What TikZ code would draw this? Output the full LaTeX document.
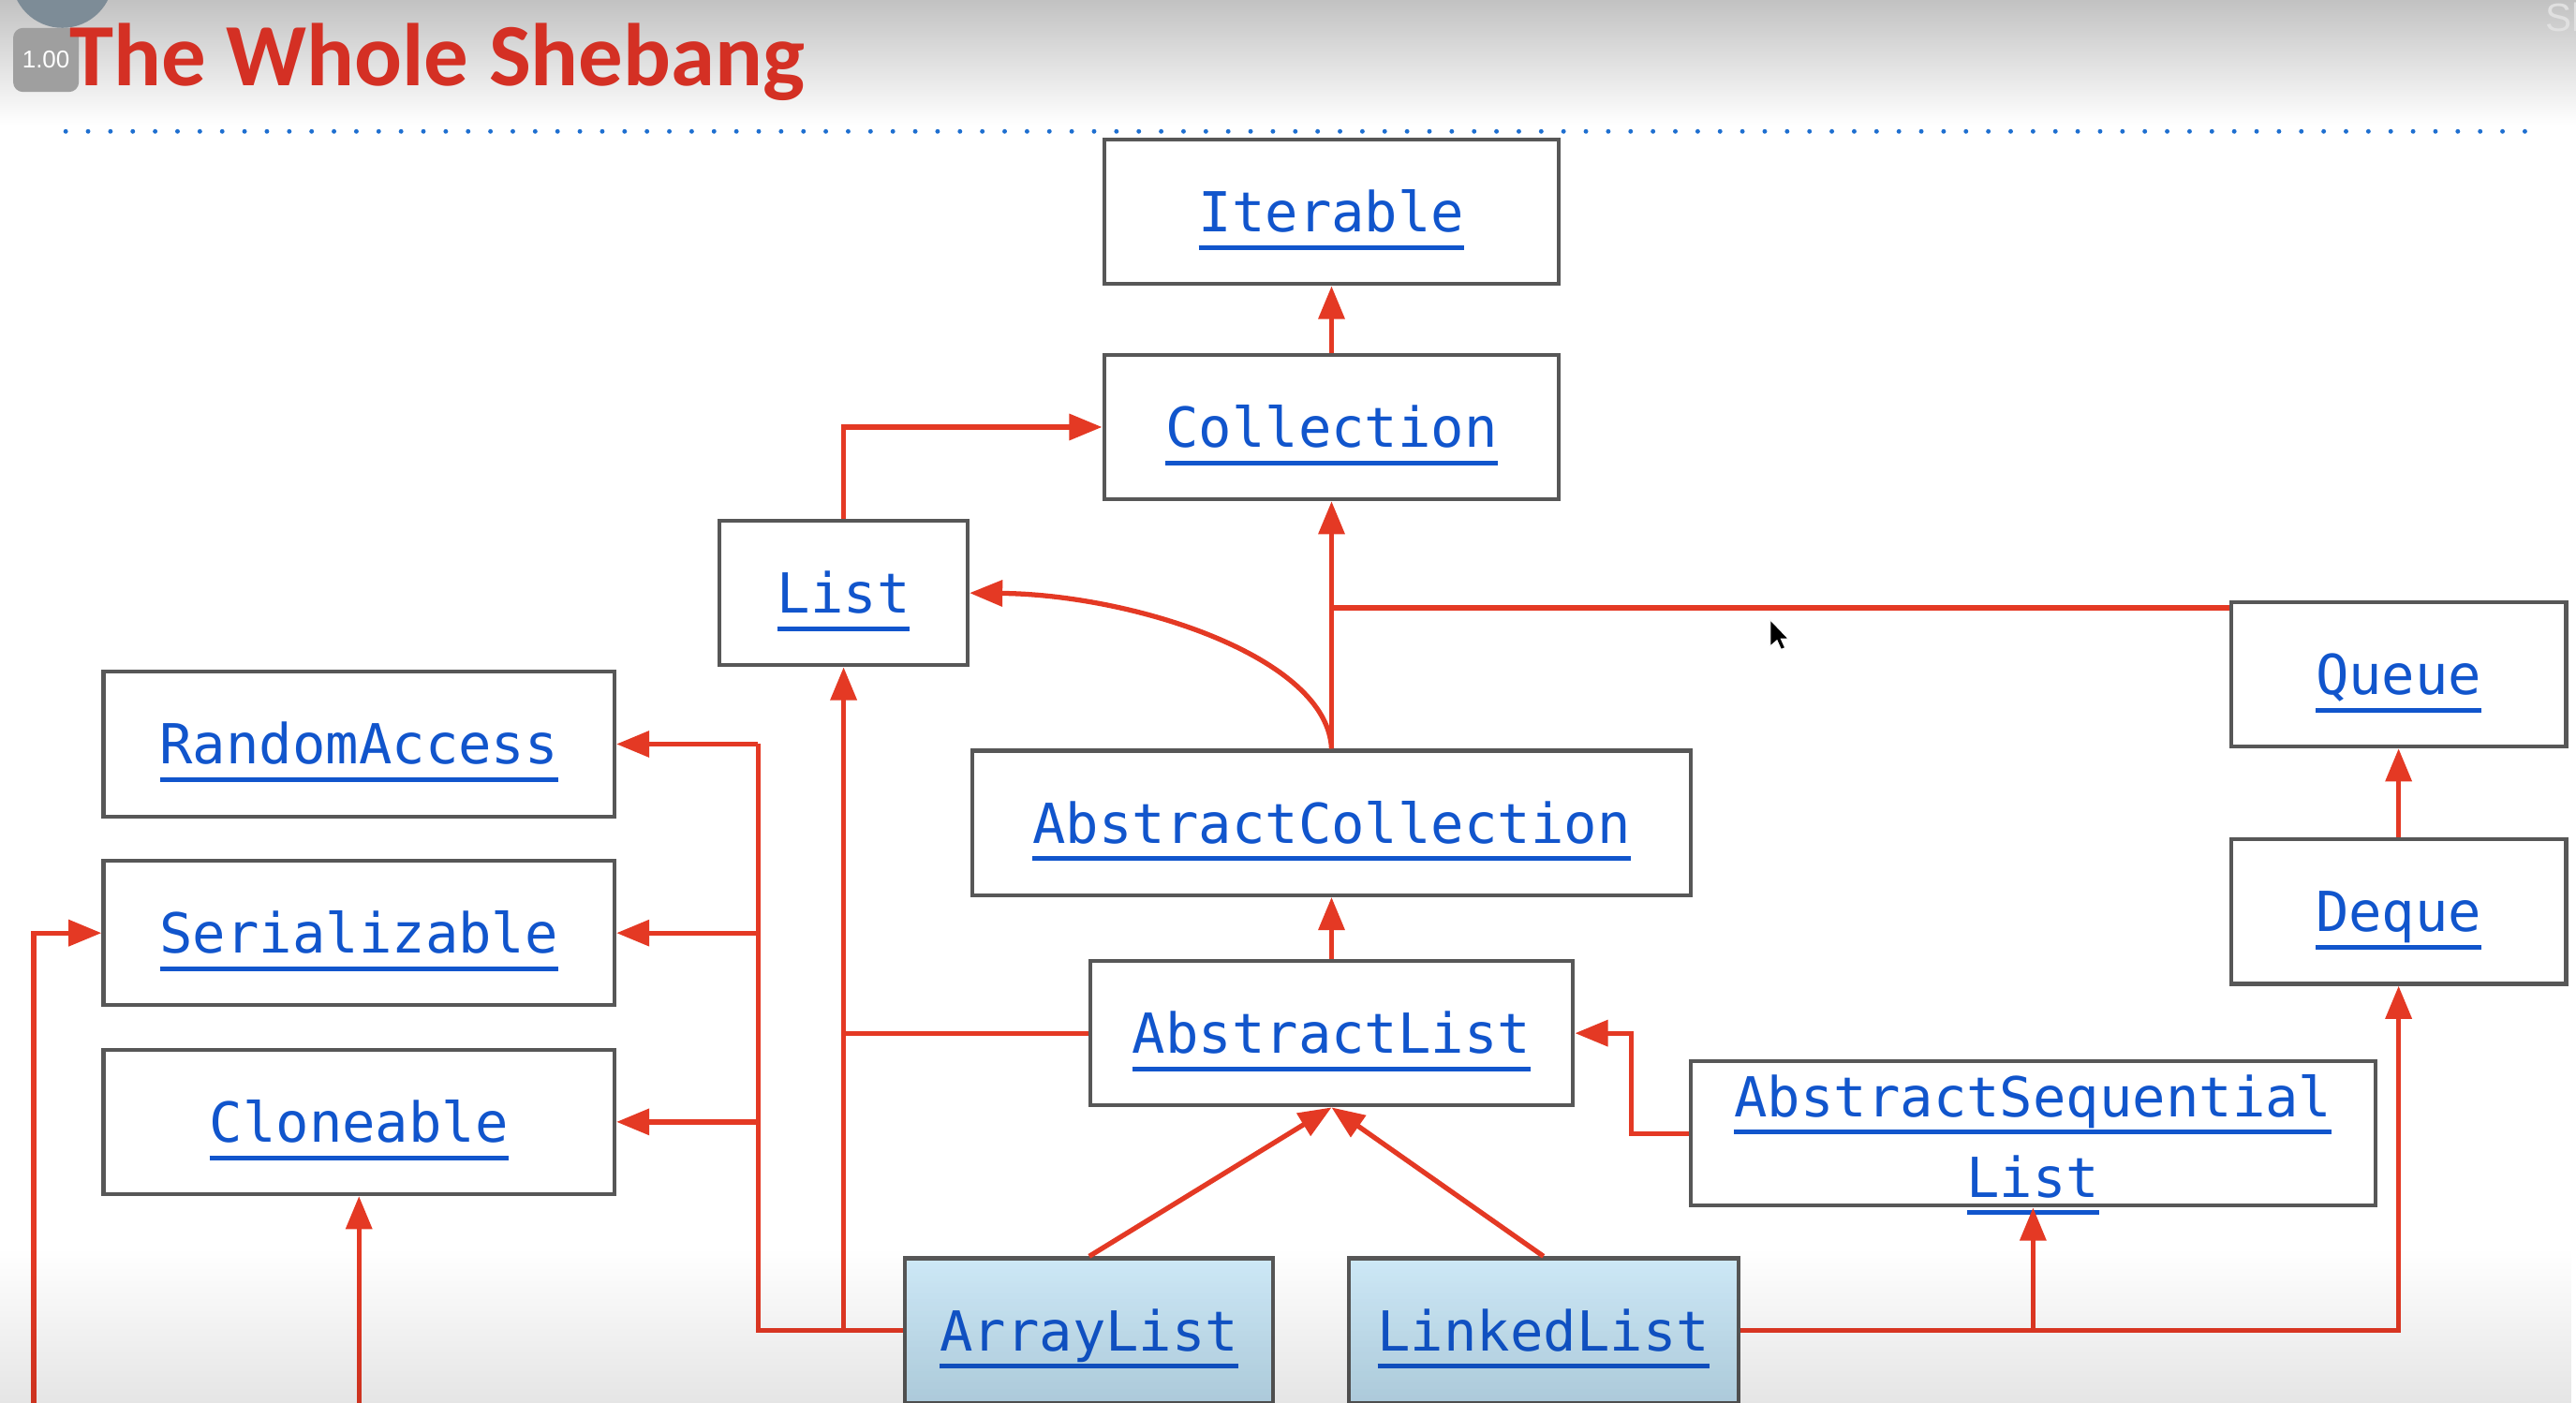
\documentclass[tikz,border=0pt]{standalone}
\usepackage{fontspec}
\usetikzlibrary{arrows.meta, fadings}

\newfontfamily\codefont{DejaVu Sans Mono}
\newfontfamily\titlefont{Carlito}
\newfontfamily\uifont{Liberation Sans}
\newcommand{\uline}[1]{\setbox0=\hbox{#1}\rlap{\rule[-5.5pt]{\wd0}{1.45pt}}\box0}

\definecolor{linkred}{HTML}{E43924}
\definecolor{linkblue}{HTML}{1155CC}
\definecolor{boxgray}{HTML}{575757}
\definecolor{titlered}{HTML}{D43024}
\definecolor{dotblue}{HTML}{1E6FD0}
\definecolor{skytop}{HTML}{CFEAF8}
\definecolor{skybot}{HTML}{C0E1F3}
\definecolor{knob}{HTML}{7D8C97}

\tikzfading[name=fadedown, top color=transparent!100, bottom color=transparent!0]

\tikzset{
	cls/.style={draw=boxgray, line width=1.2pt, fill=white, inner sep=0pt,
		minimum height=43.9pt, text=linkblue, align=center,
		font=\codefont\fontsize{16.75pt}{24.5pt}\selectfont,
		text height=12.2pt, text depth=0pt},
	concrete/.style={cls, top color=skytop, bottom color=skybot},
	wire/.style={draw=linkred, line width=1.5pt},
	impl/.style={wire, -{Triangle[length=10pt, width=7.8pt]}}
}

\begin{document}
\begin{tikzpicture}[x=0.49898pt, y=-0.49898pt]
	\useasboundingbox (0,0) rectangle (1568,854);
	\fill [white] (0,0) rectangle (1568,854);
	\shade [top color=black!24, bottom color=white] (0,0) rectangle (1568,76);

	% player overlay
	\fill [knob] (38,-14) circle (31);
	\fill [gray!75, rounded corners=3pt] (8,17) rectangle (48,56);
	\node (speed) [text=white, font=\uifont\fontsize{7.4pt}{9pt}\selectfont] at (28,36) {1.00};
	\node (share) [anchor=base west, inner sep=0pt, text=white!88!black,
		font=\uifont\fontsize{12pt}{14pt}\selectfont] at (1549,19) {Sh};

	% title
	\node (title) [anchor=base west, inner sep=0pt, text=titlered,
		font=\titlefont\bfseries\fontsize{27pt}{32pt}\selectfont] at (42,52) {The Whole Shebang};
	\draw [dotblue, line width=1.4pt, line cap=round, dash pattern=on 0pt off 6.79pt] (40,80) -- (1537,80);

	% interfaces
	\node (iter) [cls, minimum width=138.2pt] at (810.5,129) {\uline{Iterable}};
	\node (coll) [cls, minimum width=138.2pt] at (810.5,260) {\uline{Collection}};
	\node (list) [cls, minimum width=75.3pt] at (513.5,361) {\uline{List}};
	\node (queue) [cls, minimum width=101.8pt] at (1460,410.5) {\uline{Queue}};
	\node (deque) [cls, minimum width=101.8pt] at (1460,555) {\uline{Deque}};
	\node (rand) [cls, minimum width=155.2pt] at (218.5,453) {\uline{RandomAccess}};
	\node (ser) [cls, minimum width=155.2pt] at (218.5,568) {\uline{Serializable}};
	\node (clone) [cls, minimum width=155.2pt] at (218.5,683) {\uline{Cloneable}};

	% abstract classes
	\node (acoll) [cls, minimum width=218.1pt] at (810.5,501) {\uline{AbstractCollection}};
	\node (alist) [cls, minimum width=146.7pt] at (810.5,629) {\uline{AbstractList}};
	\node (aseq) [cls, minimum width=208.1pt, text height=38.7pt] at (1237.5,690)
		{\uline{AbstractSequential}\\\uline{List}};

	% concrete classes
	\node (arr) [concrete, minimum width=111.8pt] at (663,810) {\uline{ArrayList}};
	\node (linked) [concrete, minimum width=118.3pt] at (939.5,810) {\uline{LinkedList}};

	\coordinate (qj) at (810.5,370);
	\coordinate (bus) at (461.5,810);
	\coordinate (sj) at (993,690);
	\coordinate (offa) at (20.5,856);
	\coordinate (offb) at (218.5,856);

	\draw [impl] (coll.north) -- (iter.south);
	\draw [impl] (list.north) |- (coll.west);
	\draw [impl] (acoll.north) -- (coll.south);
	\draw [impl] (acoll.north) .. controls (808,400) and (690,362) .. (list.east);
	\draw [wire] (qj) -- (qj -| queue.west);
	\draw [impl] (deque.north) -- (queue.south);
	\draw [impl] (alist.north) -- (acoll.south);
	\draw [wire] (alist.west) -- (alist.west -| list.south);
	\draw [impl] (aseq.west) -- (sj) |- (alist.east);
	\draw [impl] (arr.north) -- (alist.south);
	\draw [impl] (linked.north) -- (alist.south);
	\draw [impl] (arr.west) -| (list.south);
	\draw [wire] (arr.west) -- (bus) -- (bus |- rand.east);
	\draw [impl] (bus |- rand.east) -- (rand.east);
	\draw [impl] (bus |- ser.east) -- (ser.east);
	\draw [impl] (bus |- clone.east) -- (clone.east);
	\draw [impl] (linked.east) -| (aseq.south);
	\draw [impl] (linked.east) -| (deque.south);
	\draw [impl] (offa) |- (ser.west);
	\draw [impl] (offb) -- (clone.south);

	% mouse pointer
	\fill [black, draw=white, line width=0.3pt, shift={(1077.6,377.4)}]
		(0,0) -- (0,16) -- (4,12.5) -- (6.5,18) -- (9,17) -- (6.5,11.5) -- (11,11.5) -- cycle;

	\fill [black, opacity=0.1, path fading=fadedown] (0,760) rectangle (1568,854);
\end{tikzpicture}
\end{document}
